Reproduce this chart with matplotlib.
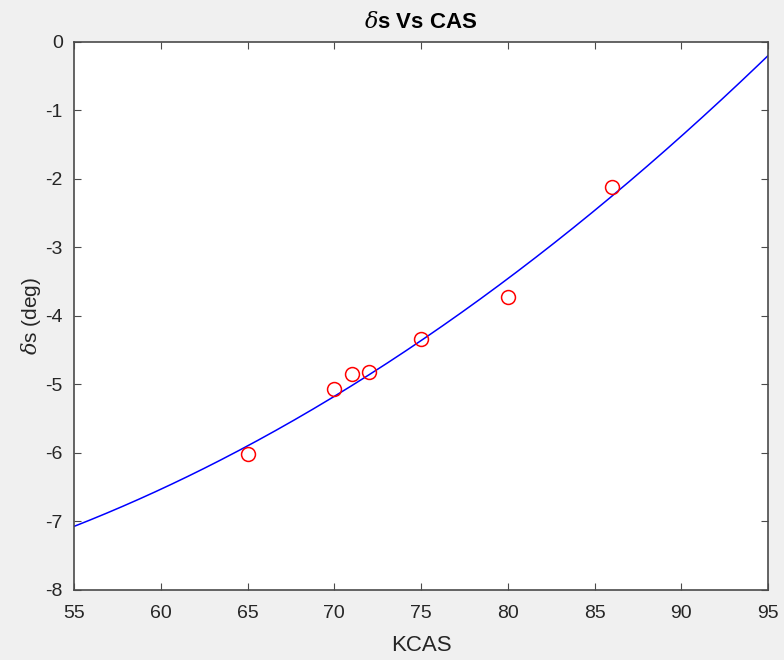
import numpy as np
import matplotlib
matplotlib.use("Agg")
import matplotlib.pyplot as plt

plt.rcParams['font.family'] = ['Liberation Sans', 'DejaVu Sans']
plt.rcParams['mathtext.fontset'] = 'dejavuserif'
plt.rcParams['axes.unicode_minus'] = False

# measured points
kcas = [65, 70, 71, 72, 75, 80, 86]
delta_s = [-6.02, -5.07, -4.84, -4.82, -4.34, -3.72, -2.11]

# fitted curve, quadratic in (x - 75)
fit_center = 75
fit_coefs = [0.00181, 0.1718, -4.36]
fit_range = [55, 95]

x_ticks = [55, 60, 65, 70, 75, 80, 85, 90, 95]
y_ticks = [0, -1, -2, -3, -4, -5, -6, -7, -8]

fig = plt.figure(figsize=(7.84, 6.60), dpi=100, facecolor='#f0f0f0')
ax = fig.add_axes([0.0944, 0.1061, 0.8852, 0.8303])
ax.set_facecolor('white')

x_fit = np.linspace(fit_range[0], fit_range[1], 300)
y_fit = np.polyval(fit_coefs, x_fit - fit_center)
ax.plot(x_fit, y_fit, color='#0000ff', linewidth=1.1)
ax.plot(kcas, delta_s, 'o', markersize=10, markerfacecolor='none',
        markeredgecolor='#ff0000', markeredgewidth=1.1)

ax.set_xlim(55, 95)
ax.set_ylim(-8, 0)
ax.set_xticks(x_ticks)
ax.set_yticks(y_ticks)

dark = '#262626'
for s in ax.spines.values():
    s.set_color('#4a4a4a')
    s.set_linewidth(1.2)
ax.tick_params(direction='in', length=5, top=True, right=True,
               colors='#4a4a4a', labelsize=14, labelcolor=dark, width=0.8)
ax.tick_params(axis='x', pad=11)
ax.tick_params(axis='y', pad=8)

ax.set_title(r'$\delta$s Vs CAS', fontsize=16, fontweight='bold', color='black', pad=10)
ax.set_xlabel('KCAS', fontsize=16, color=dark, labelpad=9)
ax.set_ylabel(r'$\delta$s (deg)', fontsize=15, color=dark, labelpad=2)

fig.savefig('out.png', dpi=100, facecolor=fig.get_facecolor())
